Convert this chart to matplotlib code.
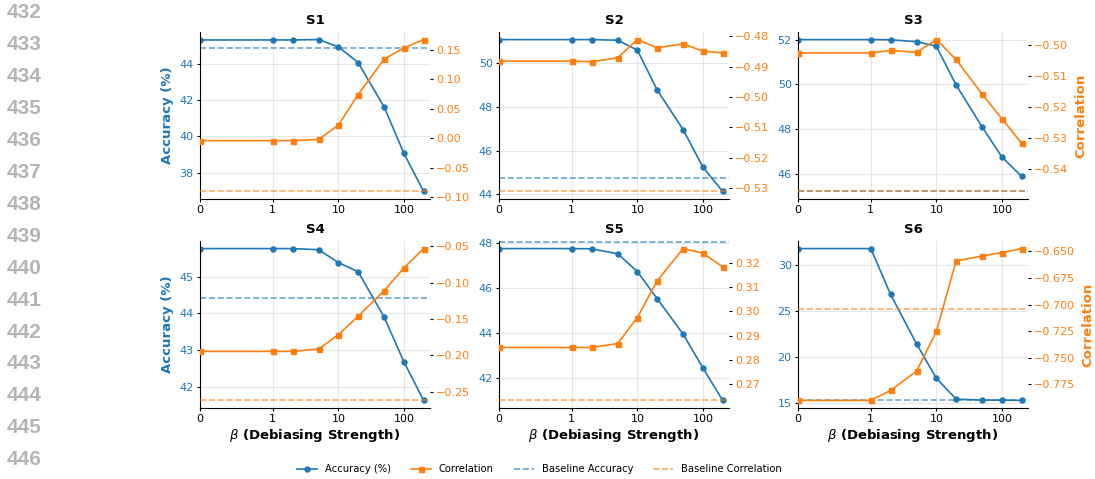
import numpy as np
import matplotlib
matplotlib.use("Agg")
import matplotlib.pyplot as plt
from matplotlib.lines import Line2D

# Debiasing strength values (symlog x axis)
beta = [0, 1, 2, 5, 10, 20, 50, 100, 200]
x_ticks = [0, 1, 10, 100]
x_tick_labels = ["0", "1", "10", "100"]

settings = ["S1", "S2", "S3", "S4", "S5", "S6"]

acc_s1 = [45.30, 45.30, 45.30, 45.32, 44.92, 44.06, 41.61, 39.06, 36.97]
acc_s2 = [51.08, 51.08, 51.08, 51.05, 50.60, 48.78, 46.96, 45.25, 44.14]
acc_s3 = [52.00, 52.00, 51.99, 51.91, 51.70, 49.97, 48.09, 46.75, 45.88]
acc_s4 = [45.77, 45.77, 45.77, 45.74, 45.39, 45.14, 43.90, 42.68, 41.63]
acc_s5 = [47.73, 47.73, 47.72, 47.50, 46.71, 45.51, 43.93, 42.43, 40.99]
acc_s6 = [31.77, 31.77, 26.80, 21.41, 17.69, 15.43, 15.32, 15.32, 15.29]

corr_s1 = [-0.004, -0.004, -0.004, -0.002, 0.022, 0.074, 0.134, 0.153, 0.167]
corr_s2 = [-0.4882, -0.4882, -0.4884, -0.4871, -0.4811, -0.4838, -0.4825, -0.4849, -0.4855]
corr_s3 = [-0.5027, -0.5027, -0.5019, -0.5025, -0.4984, -0.5048, -0.5160, -0.5239, -0.5318]
corr_s4 = [-0.1945, -0.1945, -0.1945, -0.1913, -0.1716, -0.1463, -0.1110, -0.0798, -0.0532]
corr_s5 = [0.2851, 0.2851, 0.2851, 0.2867, 0.2974, 0.3125, 0.3258, 0.3239, 0.3183]
corr_s6 = [-0.790, -0.790, -0.7806, -0.7625, -0.7253, -0.6591, -0.6544, -0.6513, -0.6475]

baseline_acc = [44.86, 44.76, 45.21, 44.42, 48.03, 15.29]
baseline_corr = [-0.090, -0.5311, -0.5473, -0.2619, 0.2633, -0.7044]

acc_all = [acc_s1, acc_s2, acc_s3, acc_s4, acc_s5, acc_s6]
corr_all = [corr_s1, corr_s2, corr_s3, corr_s4, corr_s5, corr_s6]

line_numbers = list(range(432, 447))

BLUE = "#1f77b4"
ORANGE = "#ff7f0e"
TICK_FS = 8
LABEL_FS = 9.5

fig = plt.figure(figsize=(10.95, 4.79), dpi=100)

W, H = 1095, 479
col_left = [200, 499, 798]
row_top = [32, 241]
ax_w, ax_h = 230, 167

for i, name in enumerate(settings):
    r, c = divmod(i, 3)
    rect = [col_left[c] / W, 1 - (row_top[r] + ax_h) / H, ax_w / W, ax_h / H]
    ax = fig.add_axes(rect)
    ax2 = ax.twinx()

    ax.plot(beta, acc_all[i], color=BLUE, marker="o", ms=3.6, lw=1.2)
    ax.axhline(baseline_acc[i], color=BLUE, ls="--", lw=1.2, alpha=0.65)
    ax2.plot(beta, corr_all[i], color=ORANGE, marker="s", ms=3.6, lw=1.2)
    ax2.axhline(baseline_corr[i], color=ORANGE, ls="--", lw=1.2, alpha=0.65)

    ax.set_xscale("symlog", linthresh=1)
    ax.set_xlim(0, 250)
    ax.set_xticks(x_ticks)
    ax.set_xticklabels(x_tick_labels)
    ax.xaxis.set_minor_locator(matplotlib.ticker.NullLocator())

    ax.grid(True, color="#b0b0b0", alpha=0.3, lw=0.8)
    ax.set_axisbelow(True)

    for a in (ax, ax2):
        a.spines["top"].set_visible(False)
        a.spines["right"].set_visible(False)
    ax2.spines["left"].set_visible(False)
    ax2.spines["bottom"].set_visible(False)
    ax.spines["left"].set_color("black")
    ax.spines["bottom"].set_color("black")

    ax.tick_params(axis="x", labelsize=TICK_FS, length=2.5, width=0.8, pad=2)
    ax.tick_params(axis="y", labelsize=TICK_FS, labelcolor=BLUE, length=2.5, width=0.8, pad=2)
    ax2.tick_params(axis="y", labelsize=TICK_FS, labelcolor=ORANGE, length=2.5, width=0.8, pad=2)

    ax.set_title(name, fontsize=LABEL_FS, fontweight="bold", pad=6)
    if c == 0:
        ax.set_ylabel("Accuracy (%)", color=BLUE, fontsize=LABEL_FS, fontweight="bold")
    if c == 2:
        ax2.set_ylabel("Correlation", color=ORANGE, fontsize=LABEL_FS, fontweight="bold")
    if r == 1:
        ax.set_xlabel(r"$\beta$ (Debiasing Strength)", fontsize=LABEL_FS, fontweight="bold", labelpad=2)

handles = [
    Line2D([], [], color=BLUE, marker="o", ms=3.6, lw=1.2),
    Line2D([], [], color=ORANGE, marker="s", ms=3.6, lw=1.2),
    Line2D([], [], color=BLUE, ls="--", lw=1.2, alpha=0.65),
    Line2D([], [], color=ORANGE, ls="--", lw=1.2, alpha=0.65),
]
labels = ["Accuracy (%)", "Correlation", "Baseline Accuracy", "Baseline Correlation"]
fig.legend(handles, labels, loc="center", bbox_to_anchor=(0.4927, 1 - 469 / H),
           ncol=4, frameon=False, fontsize=7.2)

# Manuscript line numbers in the left margin
for k, num in enumerate(line_numbers):
    fig.text(7 / W, 1 - (13 + 31.9 * k) / H, str(num), ha="left", va="center",
             fontsize=15, fontweight="bold", color="#b4b4b4", family="Liberation Sans")

fig.savefig("out.png", dpi=100)
